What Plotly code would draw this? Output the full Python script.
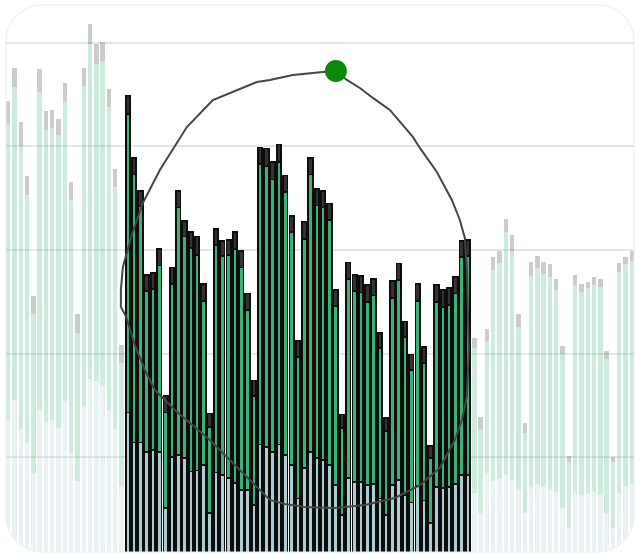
import plotly.graph_objects as go

# ---------------- data ----------------
categories = list(range(100))

bottom_vals = [13.6, 15.5, 12.7, 11.4, 8.5, 14.5, 13.4, 13.6, 12.8, 15.4, 10.4, 7.7, 14.8, 17.5, 17.3, 16.9, 14.5, 12.7, 7.2,
               14.3, 11.4, 11.4, 10.5, 10.7, 10.5, 5.1, 10.0, 10.2, 9.9, 8.6, 8.7, 9.2, 4.6, 8.5, 8.3, 8.0, 7.5, 6.8, 6.8,
               5.4, 11.2, 11.0, 10.5, 11.2, 10.2, 9.2, 6.0, 8.9, 10.5, 9.9, 9.7, 9.2, 7.3, 4.4, 8.0, 7.6, 7.6, 7.3, 7.4,
               6.0, 4.4, 7.3, 7.8, 6.3, 5.6, 7.2, 5.8, 3.6, 7.1, 7.0, 7.1, 7.4, 8.3, 8.3,
               6.5, 4.6, 8.5, 7.7, 7.9, 8.3, 7.8, 6.8, 4.6, 7.1, 7.4, 7.2, 6.8, 6.6, 5.1, 3.1, 6.5, 6.3, 6.5, 6.6, 6.3,
               4.6, 3.1, 6.5, 7.2, 7.4]

middle_vals = [28.6, 30.2, 27.3, 23.9, 15.3, 30.8, 28.2, 28.2, 28.3, 28.9, 24.4, 14.3, 31.0, 32.4, 30.7, 31.4, 29.3, 23.4, 11.9,
               28.8, 25.9, 22.8, 15.5, 15.5, 18.0, 9.2, 16.7, 23.9, 21.4, 21.6, 20.8, 15.9, 8.3, 22.0, 21.1, 21.5, 22.6,
               21.5, 17.4, 10.5, 27.1, 27.1, 26.3, 27.3, 25.4, 22.5, 13.7, 22.2, 26.8, 24.4, 24.4, 23.7, 17.3, 8.4, 19.2,
               18.4, 18.3, 17.7, 18.2, 14.5, 8.1, 18.1, 19.3, 15.3, 12.8, 17.9, 13.3, 6.3, 17.9, 17.5, 17.6, 18.4, 21.0, 21.1,
               14.0, 8.1, 12.7, 20.4, 20.8, 23.4, 22.1, 15.8, 7.7, 20.4, 20.9, 20.5, 20.6, 19.5, 14.9, 6.4, 20.1, 19.6,
               19.8, 20.0, 20.1, 14.9, 6.4, 21.4, 21.4, 21.5]

top_vals = [2.2, 1.9, 2.4, 1.8, 1.8, 2.2, 1.8, 1.7, 1.6, 1.8, 1.8, 1.8, 1.8, 1.9, 1.9, 1.8, 1.8, 1.7, 1.7,
            1.8, 1.6, 1.5, 1.6, 1.6, 1.6, 1.6, 1.6, 1.6, 1.5, 1.5, 1.8, 1.6, 1.3, 1.5, 1.5, 1.5, 1.6, 1.6, 1.6,
            1.5, 1.6, 1.7, 1.7, 1.7, 1.6, 1.6, 1.5, 1.6, 1.6, 1.6, 1.6, 1.6, 1.5, 1.3, 1.6, 1.6, 1.6, 1.6, 1.6,
            1.5, 1.3, 1.6, 1.6, 1.5, 1.5, 1.6, 1.5, 1.2, 1.6, 1.6, 1.6, 1.6, 1.6, 1.6,
            1.0, 1.2, 1.2, 1.2, 1.2, 1.3, 1.5, 1.2, 1.0, 1.3, 1.1, 1.1, 1.2, 1.1, 0.7, 0.6, 1.0, 0.8, 0.6, 0.8,
            0.8, 0.7, 0.5, 0.8, 0.7, 1.0]

selected_points = list(range(19, 74))

lasso_x = [52.02, 53.76, 55.83, 57.89, 60.59, 62.65, 64.24, 65.35, 68.05, 70.43, 71.70, 72.49, 72.81, 72.97,
           73.13, 72.81, 72.02, 70.90, 68.52, 65.35, 61.38, 56.62, 51.86, 47.10, 43.92, 41.54, 36.78, 32.02,
           26.46, 23.29, 21.70, 20.11, 18.68, 17.89, 17.89, 18.21, 19.63, 21.38, 24.08, 26.78, 28.37, 32.49,
           35.19, 39.48, 41.54, 45.19, 49.95, 52.02]
lasso_y = [47.29, 46.43, 45.65, 44.69, 43.53, 42.08, 40.92, 39.86, 37.54, 34.83, 32.90, 31.16, 28.07, 24.20,
           20.34, 15.80, 13.57, 11.64, 8.94, 7.29, 6.04, 5.36, 5.07, 5.17, 5.46, 5.85, 8.74, 11.64,
           14.54, 16.47, 18.41, 20.82, 23.62, 24.49, 26.14, 28.36, 31.45, 34.54, 37.73, 40.34, 41.88, 44.49,
           45.17, 46.23, 46.43, 46.91, 47.20, 47.29]

# ---------------- style ----------------
W, H = 636, 554
ML, MR, MT, MB = 5, 1, 0, 0
Y_RANGE = [0.63, 54.15]

COL_BOTTOM = (174, 205, 208)
COL_MIDDLE = (60, 179, 118)
COL_TOP = (51, 51, 51)
UNSEL_ALPHA = 0.25


def point_colors(rgb):
    out = []
    for i in categories:
        a = 1.0 if i in selected_points else UNSEL_ALPHA
        out.append("rgba(%d,%d,%d,%.2f)" % (rgb[0], rgb[1], rgb[2], a))
    return out


line_w = [1.8 if i in selected_points else 0 for i in categories]
line_c = ["#0d0d0d" for _ in categories]

fig = go.Figure()
for name, vals, col in [("bottom", bottom_vals, COL_BOTTOM),
                        ("middle", middle_vals, COL_MIDDLE),
                        ("top", top_vals, COL_TOP)]:
    fig.add_trace(go.Bar(
        x=categories, y=vals, name=name,
        marker=dict(color=point_colors(col), line=dict(color=line_c, width=line_w)),
        hoverinfo="skip",
    ))

fig.add_trace(go.Scatter(
    x=lasso_x, y=lasso_y, mode="lines",
    line=dict(color="#454545", width=2),
    hoverinfo="skip",
))
fig.add_trace(go.Scatter(
    x=[lasso_x[0]], y=[lasso_y[0]], mode="markers",
    marker=dict(color="#0a8a0a", size=22, line=dict(width=0)),
    hoverinfo="skip",
))

# rounded frame (pixel -> paper helpers)
PW = W - ML - MR
PH = H - MT - MB


def px(x):
    return (x - ML) / PW


def py(y):
    return (H - MB - y) / PH


def rrect(L, T, R, B, r):
    k = 0.5523 * r
    pts = [
        ("M", [(L + r, T)]),
        ("L", [(R - r, T)]),
        ("C", [(R - r + k, T), (R, T + r - k), (R, T + r)]),
        ("L", [(R, B - r)]),
        ("C", [(R, B - r + k), (R - r + k, B), (R - r, B)]),
        ("L", [(L + r, B)]),
        ("C", [(L + r - k, B), (L, B - r + k), (L, B - r)]),
        ("L", [(L, T + r)]),
        ("C", [(L, T + r - k), (L + r - k, T), (L + r, T)]),
    ]
    s = ""
    for cmd, ps in pts:
        s += cmd + " " + " ".join("%.5f,%.5f" % (px(a), py(b)) for a, b in ps) + " "
    return s + "Z"


FL, FT, FR, FB, FRAD = 6, 5, 634, 552, 36
inner = rrect(FL, FT, FR, FB, FRAD)
outer = "M %.4f,%.4f L %.4f,%.4f L %.4f,%.4f L %.4f,%.4f Z " % (
    px(-20), py(-20), px(W + 20), py(-20), px(W + 20), py(H + 20), px(-20), py(H + 20))

fig.add_shape(type="path", path=outer + inner, xref="paper", yref="paper",
              fillcolor="white", fillrule="evenodd", line=dict(width=0), layer="above")
fig.add_shape(type="path", path=inner, xref="paper", yref="paper",
              line=dict(color="#e9ecef", width=1), layer="above")

fig.update_layout(
    width=W, height=H,
    margin=dict(l=ML, r=MR, t=MT, b=MB),
    barmode="stack", bargap=0.3,
    showlegend=False,
    paper_bgcolor="white", plot_bgcolor="white",
    xaxis=dict(range=[-0.5, 99.5], visible=False, fixedrange=True),
    yaxis=dict(range=Y_RANGE, tick0=0, dtick=10, showticklabels=False, ticks="",
               showgrid=True, gridcolor="#e1e6eb", gridwidth=1.5, zeroline=False,
               showline=False, fixedrange=True),
)

fig.write_html("out.html", config={"displayModeBar": False},
               post_script="document.body.style.margin='0';document.body.style.overflow='hidden';")
